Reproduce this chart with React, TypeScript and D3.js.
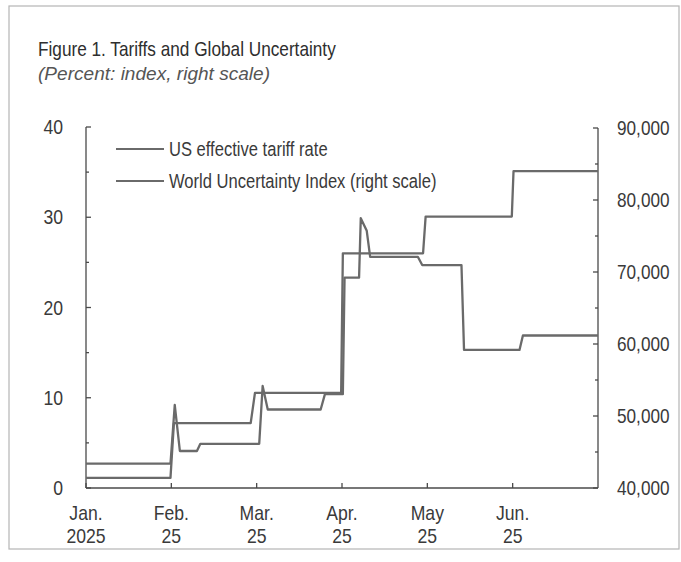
import React from "react";
import * as d3 from "d3";

// ---- data ----
const monthLabels = ["Jan.", "Feb.", "Mar.", "Apr.", "May", "Jun."];
const yearLabels = ["2025", "25", "25", "25", "25", "25"];
const leftTicks = [0, 10, 20, 30, 40];
const rightTicks = [40000, 50000, 60000, 70000, 80000, 90000];

// x positions in months since Jan 1 2025
const tariffX = [0, 0.99, 1.04, 1.1, 1.3, 1.34, 2.03, 2.07, 2.13, 2.75, 2.8, 3.01, 3.03, 3.2, 3.22, 3.29, 3.33, 3.89, 3.94, 4.4, 4.43, 5.08, 5.12, 6.0];
const tariffV = [2.7, 2.7, 9.2, 4.1, 4.1, 4.9, 4.9, 11.3, 8.7, 8.7, 10.4, 10.4, 23.3, 23.3, 29.9, 28.5, 25.6, 25.6, 24.7, 24.7, 15.3, 15.3, 16.9, 16.9];

const uncX = [0, 0.99, 1.03, 1.93, 1.98, 2.99, 3.01, 3.95, 3.98, 4.99, 5.01, 6.0];
const uncV = [41400, 41400, 49000, 49000, 53200, 53200, 72600, 72600, 77700, 77700, 84000, 84000];

const FONT = "'Liberation Sans', Arial, sans-serif";
const LINE = "#6a6a6a";
const TXT = "#3a3a3a";

type NTProps = {
  x: number;
  y: number;
  size: number;
  sx?: number;
  anchor?: "start" | "middle" | "end";
  italic?: boolean;
  fill?: string;
  dy?: string;
  children: React.ReactNode;
};

function NT({ x, y, size, sx = 0.82, anchor = "start", italic = false, fill = TXT, dy, children }: NTProps) {
  return (
    <text
      transform={`translate(${x},${y}) scale(${sx},1)`}
      textAnchor={anchor}
      fontFamily={FONT}
      fontSize={size}
      fontStyle={italic ? "italic" : "normal"}
      fill={fill}
      dy={dy}
    >
      {children}
    </text>
  );
}

export default function App() {
  const W = 681, H = 562;
  const x = d3.scaleLinear().domain([0, 6]).range([86, 598]);
  const yL = d3.scaleLinear().domain([0, 40]).range([488, 127]);
  const yR = d3.scaleLinear().domain([40000, 90000]).range([488, 128]);

  const tariffLine = d3.line<number>().x((_, i) => x(tariffX[i])).y((d) => yL(d))(tariffV) || "";
  const uncLine = d3.line<number>().x((_, i) => x(uncX[i])).y((d) => yR(d))(uncV) || "";

  const leftMinor = d3.range(5, 40, 10);
  const rightMinor = d3.range(45000, 90000, 10000);
  const fmt = d3.format(",");

  return (
    <div style={{ position: "absolute", left: 0, top: 0 }}>
      <svg width={W} height={H} style={{ display: "block", background: "#fff" }}>
        <rect x={9} y={6} width={670} height={543} fill="none" stroke="#b5b5b5" strokeWidth={1.2} />
        <NT x={38} y={56} size={21} sx={0.82} fill="#2e2e2e">Figure 1.  Tariffs and Global Uncertainty</NT>
        <NT x={38} y={80} size={18} sx={1.06} italic fill="#555">(Percent: index, right scale)</NT>

        {/* axes */}
        <g stroke="#4a4a4a" strokeWidth={1.3} fill="none">
          <line x1={86} y1={yL(40)} x2={86} y2={yL(0)} />
          <line x1={598} y1={yR(90000)} x2={598} y2={yR(40000)} />
          <line x1={86} y1={yL(0)} x2={598} y2={yL(0)} />
          {leftTicks.map((t) => (
            <line key={"lt" + t} x1={86} x2={91} y1={yL(t)} y2={yL(t)} />
          ))}
          {leftMinor.map((t) => (
            <line key={"lm" + t} x1={86} x2={89} y1={yL(t)} y2={yL(t)} />
          ))}
          {rightTicks.map((t) => (
            <line key={"rt" + t} x1={593} x2={598} y1={yR(t)} y2={yR(t)} />
          ))}
          {rightMinor.map((t) => (
            <line key={"rm" + t} x1={595} x2={598} y1={yR(t)} y2={yR(t)} />
          ))}
          {monthLabels.map((m, i) => (
            <line key={"xt" + i} x1={x(i)} x2={x(i)} y1={yL(0)} y2={yL(0) - 5} />
          ))}
        </g>

        {/* tick labels */}
        {leftTicks.map((t) => (
          <NT key={"ll" + t} x={63} y={yL(t)} dy="0.36em" anchor="end" size={20} sx={0.88}>{t}</NT>
        ))}
        {rightTicks.map((t) => (
          <NT key={"rl" + t} x={617} y={yR(t)} dy="0.36em" anchor="start" size={20} sx={0.86}>{fmt(t)}</NT>
        ))}
        {monthLabels.map((m, i) => (
          <g key={"xl" + i}>
            <NT x={x(i)} y={520} anchor="middle" size={20} sx={0.88}>{m}</NT>
            <NT x={x(i)} y={543} anchor="middle" size={20} sx={0.88}>{yearLabels[i]}</NT>
          </g>
        ))}

        {/* series */}
        <path d={uncLine} fill="none" stroke={LINE} strokeWidth={2.3} strokeLinejoin="round" />
        <path d={tariffLine} fill="none" stroke={LINE} strokeWidth={2.3} strokeLinejoin="round" />

        {/* legend */}
        <line x1={116} x2={164} y1={149} y2={149} stroke={LINE} strokeWidth={2} />
        <NT x={169} y={149} dy="0.36em" size={19.5} sx={0.85}>US effective tariff rate</NT>
        <line x1={116} x2={164} y1={181} y2={181} stroke={LINE} strokeWidth={2} />
        <NT x={169} y={181} dy="0.36em" size={19.5} sx={0.85}>World Uncertainty Index (right scale)</NT>
      </svg>
    </div>
  );
}
